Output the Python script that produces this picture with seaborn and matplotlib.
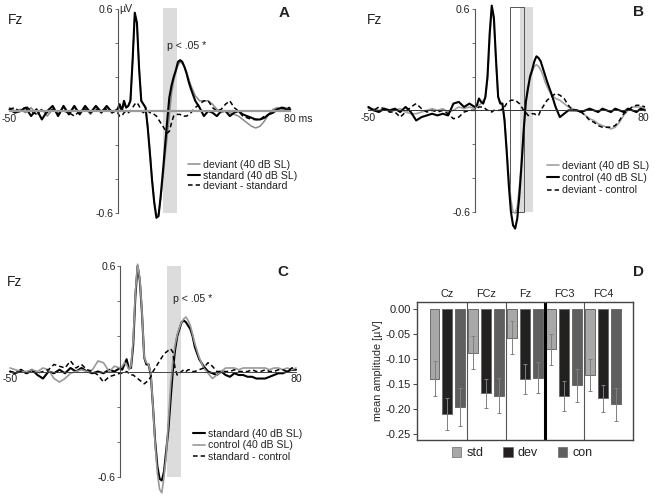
import numpy as np
import pandas as pd
import seaborn as sns
import matplotlib.pyplot as plt
from matplotlib.lines import Line2D
from matplotlib.patches import Patch, Rectangle

########################################################################
# Data (time in ms, amplitude in microvolt)

t_ms = [-50, -47.5, -45, -42.5, -40, -37.5, -35, -32.5, -30, -27.5,
        -25, -22.5, -20, -17.5, -15, -12.5, -10, -7.5, -5, -2.5,
        0, 1, 2, 3, 4, 5, 6, 7, 8, 9,
        10, 11, 12, 13, 14, 15, 16, 17, 18, 19,
        20, 21, 22, 23, 24, 25, 26, 27, 28, 29,
        30, 31, 32, 33, 34,
        36, 38, 40, 42, 44, 46, 48, 50, 52, 54,
        56, 58, 60, 62, 64, 66, 68, 70, 72, 74, 76, 78, 80]

# panel A
a_standard = [0.01, -0.01, 0.00, 0.02, -0.03, 0.01, -0.05, 0.00, 0.03, -0.03,
              0.03, -0.02, 0.03, -0.02, 0.03, -0.01, 0.03, -0.01, 0.03, -0.01,
              0.01, 0.04, 0.00, 0.06, 0.02, 0.03, 0.06, 0.30, 0.58, 0.52,
              0.25, 0.06, 0.04, 0.02, -0.10, -0.25, -0.41, -0.54, -0.63, -0.62,
              -0.50, -0.36, -0.21, -0.06, 0.08, 0.15, 0.20, 0.24, 0.29, 0.30,
              0.29, 0.26, 0.22, 0.17, 0.13,
              0.06, 0.02, -0.03, 0.00, -0.01, -0.03, 0.00, 0.00, -0.03, -0.01,
              0.00, -0.02, -0.03, -0.04, -0.05, -0.05, -0.04, -0.02, -0.01, 0.01, 0.02, 0.01, 0.01]
a_deviant = [0.02, 0.00, 0.01, -0.01, 0.02, -0.02, 0.01, -0.03, 0.01, -0.01,
             0.02, -0.02, 0.02, -0.01, 0.02, -0.02, 0.03, 0.00, 0.02, 0.00,
             0.00, 0.02, 0.01, 0.04, 0.02, 0.03, 0.07, 0.30, 0.56, 0.52,
             0.26, 0.06, 0.04, 0.02, -0.09, -0.23, -0.40, -0.53, -0.61, -0.61,
             -0.52, -0.40, -0.27, -0.15, -0.03, 0.10, 0.18, 0.23, 0.27, 0.29,
             0.28, 0.26, 0.23, 0.19, 0.15,
             0.09, 0.06, 0.06, 0.06, 0.04, 0.01, -0.01, 0.00, -0.01, -0.02,
             -0.03, -0.05, -0.07, -0.09, -0.10, -0.09, -0.06, -0.02, 0.01, 0.02, 0.01, 0.02, 0.01]
a_diff = [0.01, 0.02, -0.01, 0.03, 0.00, -0.02, 0.01, -0.01, 0.01, -0.02,
          0.00, -0.01, -0.03, 0.00, 0.01, -0.01, 0.01, 0.00, 0.01, 0.00,
          -0.01, -0.03, -0.03, -0.01, 0.00, -0.01, 0.00, 0.02, 0.04, 0.05,
          0.03, 0.00, -0.01, 0.00, 0.00, -0.01, -0.01, -0.02, -0.03, -0.05,
          -0.07, -0.09, -0.11, -0.13, -0.12, -0.07, -0.03, -0.02, -0.02, -0.02,
          -0.03, -0.03, -0.03, -0.02, -0.01,
          0.02, 0.04, 0.06, 0.06, 0.02, 0.00, 0.01, 0.04, 0.06, 0.02,
          0.00, -0.03, -0.04, -0.05, -0.05, -0.05, -0.03, -0.02, 0.00, 0.01, 0.02, 0.02, 0.02]

# panel B
b_deviant = [0.01, 0.01, 0.00, 0.01, -0.01, 0.00, 0.01, -0.01, -0.02, -0.02,
             -0.01, 0.00, 0.01, 0.00, 0.01, -0.01, 0.00, 0.02, 0.01, 0.02,
             0.01, 0.02, 0.03, 0.04, 0.06, 0.07, 0.18, 0.42, 0.60, 0.53,
             0.29, 0.08, 0.05, 0.04, -0.05, -0.22, -0.40, -0.53, -0.60, -0.61,
             -0.57, -0.45, -0.30, -0.12, 0.04, 0.12, 0.19, 0.23, 0.26, 0.27,
             0.26, 0.24, 0.21, 0.17, 0.14,
             0.09, 0.07, 0.06, 0.04, 0.02, 0.01, 0.00, -0.01, -0.03, -0.05,
             -0.06, -0.08, -0.09, -0.10, -0.11, -0.10, -0.07, -0.03, 0.00, 0.02, 0.02, 0.02, 0.01]
b_control = [0.02, 0.00, -0.01, 0.01, 0.00, 0.01, -0.01, 0.02, -0.01, -0.06,
             -0.04, -0.03, -0.02, -0.03, -0.02, -0.03, 0.04, 0.05, 0.02, 0.04,
             0.02, 0.03, 0.07, 0.05, 0.04, 0.08, 0.20, 0.45, 0.62, 0.55,
             0.30, 0.08, 0.04, 0.04, -0.06, -0.24, -0.44, -0.60, -0.68, -0.70,
             -0.64, -0.50, -0.32, -0.12, 0.05, 0.13, 0.20, 0.24, 0.29, 0.32,
             0.31, 0.29, 0.25, 0.21, 0.17,
             0.10, 0.02, -0.04, -0.02, 0.00, 0.00, 0.00, -0.01, 0.00, 0.01,
             0.00, -0.01, 0.01, 0.00, -0.01, 0.01, 0.00, -0.01, 0.01, 0.00, -0.01, 0.01, 0.00]
b_diff = [0.02, 0.00, 0.02, 0.01, -0.01, -0.01, -0.04, -0.01, 0.02, 0.04,
          0.01, -0.01, 0.00, -0.01, 0.00, -0.02, -0.05, -0.04, -0.01, 0.00,
          0.00, 0.01, 0.02, 0.02, 0.02, 0.01, 0.00, 0.00, -0.01, 0.00,
          0.00, 0.00, 0.00, 0.01, 0.02, 0.04, 0.05, 0.06, 0.06, 0.06,
          0.05, 0.04, 0.02, 0.00, -0.01, -0.03, -0.03, -0.02, -0.02, -0.03,
          -0.03, 0.00, 0.02, 0.04, 0.06,
          0.08, 0.10, 0.09, 0.07, 0.03, 0.00, 0.00, -0.01, -0.03, -0.06,
          -0.07, -0.09, -0.10, -0.10, -0.10, -0.09, -0.06, -0.02, 0.00, 0.02, 0.03, 0.03, 0.02]

# panel C
c_standard = [0.00, -0.01, 0.01, -0.01, 0.01, -0.02, -0.04, 0.00, -0.01, 0.01,
              -0.01, 0.02, 0.00, 0.02, 0.00, -0.01, 0.00, -0.01, 0.01, 0.00,
              0.02, 0.01, 0.04, 0.07, 0.02, 0.02, 0.15, 0.43, 0.60, 0.52,
              0.33, 0.08, 0.04, 0.04, -0.02, -0.20, -0.40, -0.54, -0.61, -0.62,
              -0.57, -0.45, -0.33, -0.16, 0.00, 0.12, 0.20, 0.24, 0.28, 0.29,
              0.28, 0.26, 0.24, 0.20, 0.14,
              0.07, 0.03, 0.00, -0.01, -0.02, 0.00, -0.02, -0.03, -0.01, -0.02,
              -0.02, -0.03, -0.03, -0.04, -0.04, -0.04, -0.03, -0.02, -0.01, -0.01, 0.00, 0.01, 0.01]
c_control = [0.02, 0.01, 0.00, 0.00, 0.01, 0.00, 0.02, 0.01, -0.04, -0.06,
             -0.04, -0.01, 0.00, 0.01, 0.00, 0.01, 0.06, 0.05, 0.00, 0.03,
             0.02, 0.03, 0.05, 0.04, 0.01, 0.03, 0.18, 0.45, 0.61, 0.53,
             0.34, 0.08, 0.05, 0.04, -0.01, -0.20, -0.42, -0.58, -0.67, -0.69,
             -0.60, -0.48, -0.28, -0.08, 0.06, 0.15, 0.21, 0.25, 0.28, 0.30,
             0.31, 0.29, 0.26, 0.21, 0.16,
             0.08, 0.02, -0.01, -0.04, -0.02, 0.00, 0.02, 0.02, 0.02, 0.01,
             0.02, 0.02, 0.02, 0.02, 0.02, 0.02, 0.01, 0.02, 0.02, 0.01, 0.02, 0.01, 0.02]
c_diff = [0.00, -0.01, 0.00, -0.01, 0.00, -0.01, 0.00, 0.01, 0.04, 0.03,
          0.02, 0.06, 0.02, 0.04, 0.01, 0.00, -0.02, -0.06, -0.03, -0.02,
          -0.01, -0.01, -0.01, 0.00, -0.01, -0.02, -0.02, -0.03, -0.04, -0.05,
          -0.06, -0.07, -0.06, -0.05, -0.03, 0.00, 0.02, 0.04, 0.06, 0.08,
          0.10, 0.11, 0.12, 0.13, 0.11, 0.02, -0.02, -0.01, 0.00, 0.01,
          0.00, 0.01, 0.01, 0.00, 0.00,
          0.01, 0.02, 0.05, 0.03, 0.00, 0.00, 0.00, 0.00, 0.01, 0.00,
          0.00, 0.00, 0.01, 0.00, 0.00, 0.01, 0.00, 0.00, 0.01, 0.01, 0.00, 0.02, 0.02]

# panel D: mean amplitude and error per electrode
electrodes = ['Cz', 'FCz', 'Fz', 'FC3', 'FC4']
conditions = ['std', 'dev', 'con']
amp_std = [-0.139, -0.087, -0.057, -0.080, -0.131]
amp_dev = [-0.209, -0.168, -0.140, -0.173, -0.178]
amp_con = [-0.195, -0.173, -0.137, -0.152, -0.190]
err_std = [0.035, 0.033, 0.033, 0.031, 0.032]
err_dev = [0.032, 0.029, 0.030, 0.030, 0.027]
err_con = [0.038, 0.035, 0.031, 0.033, 0.033]

########################################################################
# Styling

sns.set_theme(style='white')
plt.rcParams['font.family'] = ['Liberation Sans', 'DejaVu Sans']
plt.rcParams['axes.unicode_minus'] = False
plt.rcParams['text.color'] = '#222222'

W, H = 654, 497
fig = plt.figure(figsize=(W / 100, H / 100), dpi=100)

GRAY_A = '#8a8a8a'
GRAY_B = '#a2a2a2'
BAND = '#dcdcdc'
DASH = (0, (3, 2))


def axes_px(x_lo, x_hi, y_top, y_bot, xref, yref, xlim, ylim):
    # place an axes so that xref/yref land on the given pixel positions
    sx = (x_hi - x_lo) / (xref[1] - xref[0])
    sy = (y_bot - y_top) / (yref[1] - yref[0])
    left = x_lo - (xref[0] - xlim[0]) * sx
    right = x_hi + (xlim[1] - xref[1]) * sx
    top = y_top - (ylim[1] - yref[1]) * sy
    bottom = y_bot + (yref[0] - ylim[0]) * sy
    ax = fig.add_axes([left / W, 1 - bottom / H, (right - left) / W, (bottom - top) / H])
    ax.set_xlim(xlim)
    ax.set_ylim(ylim)
    return ax


def ftext(x, y, s, **kw):
    fig.text(x / W, 1 - y / H, s, **kw)


def erp_axes(ax, zero_color, zero_lw, right_label, right_x):
    for side in ['top', 'right']:
        ax.spines[side].set_visible(False)
    ax.spines['left'].set_position(('data', 0))
    ax.spines['bottom'].set_position(('data', 0))
    ax.spines['left'].set_bounds(-0.6, 0.6)
    ax.spines['bottom'].set_bounds(-50, 80)
    ax.spines['left'].set_color('#555555')
    ax.spines['left'].set_linewidth(0.8)
    ax.spines['bottom'].set_color(zero_color)
    ax.spines['bottom'].set_linewidth(zero_lw)
    ax.set_xticks([])
    ax.set_yticks([-0.6, -0.4, -0.2, 0, 0.2, 0.4, 0.6])
    ax.set_yticklabels(['-0.6', '', '', '', '', '', '0.6'])
    ax.tick_params(axis='y', left=True, direction='out', length=2.5, width=0.6,
                   pad=0.5, labelsize=7.6, colors='#555555', labelcolor='#222222')
    ax.text(-50, -0.045, '-50', ha='center', va='center', fontsize=7.6)
    ax.text(right_x, -0.045, right_label, ha='left', va='center', fontsize=7.6)
    ax.set_xlabel('')
    ax.set_ylabel('')


def erp_legend(ax, handles, labels, x, y, spacing):
    ax.legend(handles, labels, loc='upper left', bbox_to_anchor=(x / W, 1 - y / H),
              bbox_transform=fig.transFigure, frameon=False, fontsize=7.6,
              handlelength=1.15, handletextpad=0.25, labelspacing=spacing,
              borderpad=0, borderaxespad=0)


########################################################################
# Panel A

axA = axes_px(9.5, 290.3, 9.3, 212.7, (-50, 80), (-0.6, 0.6), (-52, 84), (-0.75, 0.66))
axA.fill_betweenx([-0.6, 0.61], 21, 27.5, color=BAND, lw=0, zorder=0)
sns.lineplot(x=t_ms, y=a_deviant, ax=axA, color=GRAY_A, lw=1.1)
sns.lineplot(x=t_ms, y=a_standard, ax=axA, color='black', lw=1.5)
sns.lineplot(x=t_ms, y=a_diff, ax=axA, color='black', lw=1.1, ls=DASH)
erp_axes(axA, '#9a9a9a', 1.6, '80 ms', 77)
axA.text(0.7, 0.6, 'µV', ha='left', va='center', fontsize=7.6)
erp_legend(axA,
           [Line2D([], [], color=GRAY_A, lw=1.1), Line2D([], [], color='black', lw=1.5),
            Line2D([], [], color='black', lw=1.1, ls=DASH)],
           ['deviant (40 dB SL)', 'standard (40 dB SL)', 'deviant - standard'],
           188, 160, 0.05)
ftext(187, 46, 'p < .05 *', ha='center', va='center', fontsize=7.6)
ftext(15.5, 20, 'Fz', ha='center', va='center', fontsize=10)
ftext(284.5, 13, 'A', ha='center', va='center', fontsize=11, fontweight='bold')

########################################################################
# Panel B

axB = axes_px(368.3, 645, 9, 211.7, (-50, 80), (-0.6, 0.6), (-52, 84), (-0.75, 0.66))
axB.fill_betweenx([-0.6, 0.61], 21.1, 27.5, color=BAND, lw=0, zorder=0)
axB.add_patch(Rectangle((16.4, -0.6), 6.6, 1.21, fill=False, ec='#555555', lw=0.7, zorder=1))
sns.lineplot(x=t_ms, y=b_deviant, ax=axB, color=GRAY_B, lw=1.2)
sns.lineplot(x=t_ms, y=b_control, ax=axB, color='black', lw=1.5)
sns.lineplot(x=t_ms, y=b_diff, ax=axB, color='black', lw=1.1, ls=DASH)
erp_axes(axB, '#333333', 0.7, '80', 76.5)
erp_legend(axB,
           [Line2D([], [], color=GRAY_B, lw=1.2), Line2D([], [], color='black', lw=1.5),
            Line2D([], [], color='black', lw=1.1, ls=DASH)],
           ['deviant (40 dB SL)', 'control (40 dB SL)', 'deviant - control'],
           547, 161, 0.2)
ftext(374.5, 20, 'Fz', ha='center', va='center', fontsize=10)
ftext(638, 12.5, 'B', ha='center', va='center', fontsize=11, fontweight='bold')

########################################################################
# Panel C

axC = axes_px(10, 296, 266, 477, (-50, 80), (-0.6, 0.6), (-52, 84), (-0.72, 0.66))
axC.fill_betweenx([-0.6, 0.6], 21.4, 27.7, color=BAND, lw=0, zorder=0)
sns.lineplot(x=t_ms, y=c_standard, ax=axC, color='black', lw=1.5)
sns.lineplot(x=t_ms, y=c_control, ax=axC, color='#999999', lw=1.2)
sns.lineplot(x=t_ms, y=c_diff, ax=axC, color='black', lw=1.1, ls=DASH)
erp_axes(axC, '#444444', 0.7, '80', 77.5)
erp_legend(axC,
           [Line2D([], [], color='black', lw=1.5), Line2D([], [], color='#999999', lw=1.2),
            Line2D([], [], color='black', lw=1.1, ls=DASH)],
           ['standard (40 dB SL)', 'control (40 dB SL)', 'standard - control'],
           193, 429, 0.12)
ftext(193, 299, 'p < .05 *', ha='center', va='center', fontsize=7.6)
ftext(15, 282, 'Fz', ha='center', va='center', fontsize=10)
ftext(283, 271.5, 'C', ha='center', va='center', fontsize=11, fontweight='bold')

########################################################################
# Panel D: bar chart

df_bars = pd.DataFrame({
    'electrode': electrodes * 3,
    'cond': np.repeat(conditions, len(electrodes)),
    'amp': amp_std + amp_dev + amp_con,
})
bar_colors = {'std': '#a8a8a8', 'dev': '#231f20', 'con': '#5f5f5f'}

axD = axes_px(434.5, 616, 309, 434, (-1 / 3, 13 / 3), (-0.25, 0.0), (-0.782, 4.77), (-0.262, 0.014))
sns.barplot(df_bars, x='electrode', y='amp', hue='cond', order=electrodes, hue_order=conditions,
            palette=bar_colors, width=1.0, gap=0.23, errorbar=None, edgecolor='#6a6a6a',
            linewidth=0.7, legend=False, ax=axD)
axD.set_xlim(-0.782, 4.77)
axD.set_ylim(-0.262, 0.014)

# error bars on the bar centres
errs = err_std + err_dev + err_con
xc = [p.get_x() + p.get_width() / 2 for p in axD.patches]
yc = [p.get_y() + p.get_height() for p in axD.patches]
axD.errorbar(xc, yc, yerr=errs, fmt='none', ecolor='#808080', elinewidth=0.7,
             capsize=1.5, capthick=0.7, zorder=3)

for xs in [0.5, 1.5, 3.5]:
    axD.axvline(xs, color='#555555', lw=0.8)
axD.axvline(2.5, color='black', lw=2.2)

for side in axD.spines.values():
    side.set_color('#444444')
    side.set_linewidth(1.0)
axD.xaxis.tick_top()
axD.tick_params(axis='x', length=0, pad=2, labelsize=7.8, labelcolor='#222222')
axD.set_yticks([0.0, -0.05, -0.10, -0.15, -0.20, -0.25])
axD.set_yticklabels(['0.00', '-0.05', '-0.10', '-0.15', '-0.20', '-0.25'])
axD.tick_params(axis='y', left=True, direction='out', length=3, width=0.7, pad=1.5,
                labelsize=8, colors='#444444', labelcolor='#222222')
axD.set_xlabel('')
axD.set_ylabel('mean amplitude [µV]', fontsize=7.8, labelpad=2)

handles = [Patch(facecolor=bar_colors[c], edgecolor='#6a6a6a', lw=0.5) for c in conditions]
axD.legend(handles, conditions, loc='center left', bbox_to_anchor=(452 / W, 1 - 453 / H),
           bbox_transform=fig.transFigure, ncol=3, frameon=False, fontsize=9,
           handlelength=0.75, handleheight=0.8, handletextpad=0.4, columnspacing=1.6,
           borderpad=0, borderaxespad=0)
ftext(638, 272, 'D', ha='center', va='center', fontsize=11, fontweight='bold')

plt.savefig('out.png', dpi=100)
plt.close(fig)
